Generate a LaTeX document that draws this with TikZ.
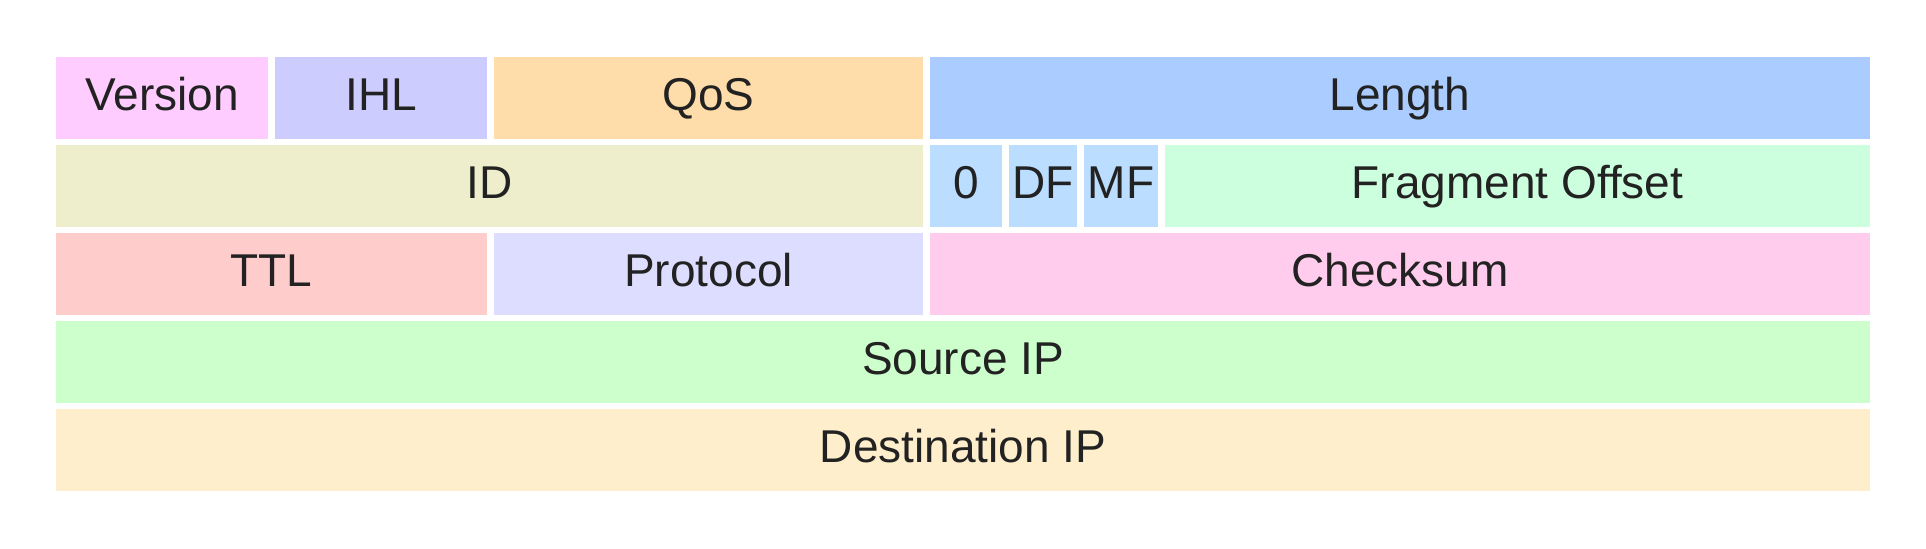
\documentclass[tikz,border=0pt]{standalone}
\usepackage{fontspec}
\setmainfont{Liberation Sans}
\usetikzlibrary{positioning}

\definecolor{txt}{HTML}{222222}
\definecolor{cver}{HTML}{FFCCFF}
\definecolor{cihl}{HTML}{CCCCFF}
\definecolor{cqos}{HTML}{FFDDAA}
\definecolor{clen}{HTML}{AACCFF}
\definecolor{cid}{HTML}{EEEECC}
\definecolor{cflag}{HTML}{BBDDFF}
\definecolor{cfrag}{HTML}{CCFFDD}
\definecolor{cttl}{HTML}{FFCCCC}
\definecolor{cproto}{HTML}{DDDDFF}
\definecolor{csum}{HTML}{FFCCEE}
\definecolor{csrc}{HTML}{CCFFCC}
\definecolor{cdst}{HTML}{FFEECC}

\tikzset{
  field/.style={rectangle,minimum height=41pt,inner sep=0pt,outer sep=0pt,
    text height=17.5pt,text depth=5.5pt,text=txt,
    font=\fontsize{23pt}{28pt}\selectfont},
  rowstart/.style={below=3pt of #1.south west,anchor=north west}
}

\begin{document}
\begin{tikzpicture}[x=0.5pt,y=-0.5pt,node distance=3.5pt]
\useasboundingbox[fill=white](0,0) rectangle (1926,548);

% row 1
\node[field,fill=cver,minimum width=106pt,anchor=north west](ver) at (56,57){Version};
\node[field,fill=cihl,minimum width=106pt](ihl)[right=of ver]{IHL};
\node[field,fill=cqos,minimum width=214.5pt](qos)[right=of ihl]{QoS};
\node[field,fill=clen,minimum width=470pt](len)[right=of qos]{Length};

% row 2
\node[field,fill=cid,minimum width=433.5pt](id)[rowstart=ver]{ID};
\node[field,fill=cflag,minimum width=36pt](zero)[right=of id]{0};
\node[field,fill=cflag,minimum width=34pt](df)[right=of zero]{DF};
\node[field,fill=cflag,minimum width=37pt](mf)[right=of df]{MF};
\node[field,fill=cfrag,minimum width=352.5pt](frag)[right=of mf]{Fragment Offset};

% row 3
\node[field,fill=cttl,minimum width=215.5pt](ttl)[rowstart=id]{TTL};
\node[field,fill=cproto,minimum width=214.5pt](proto)[right=of ttl]{Protocol};
\node[field,fill=csum,minimum width=470pt](sum)[right=of proto]{Checksum};

% rows 4 and 5
\node[field,fill=csrc,minimum width=907pt](src)[rowstart=ttl]{Source IP};
\node[field,fill=cdst,minimum width=907pt](dst)[rowstart=src]{Destination IP};

\end{tikzpicture}
\end{document}
